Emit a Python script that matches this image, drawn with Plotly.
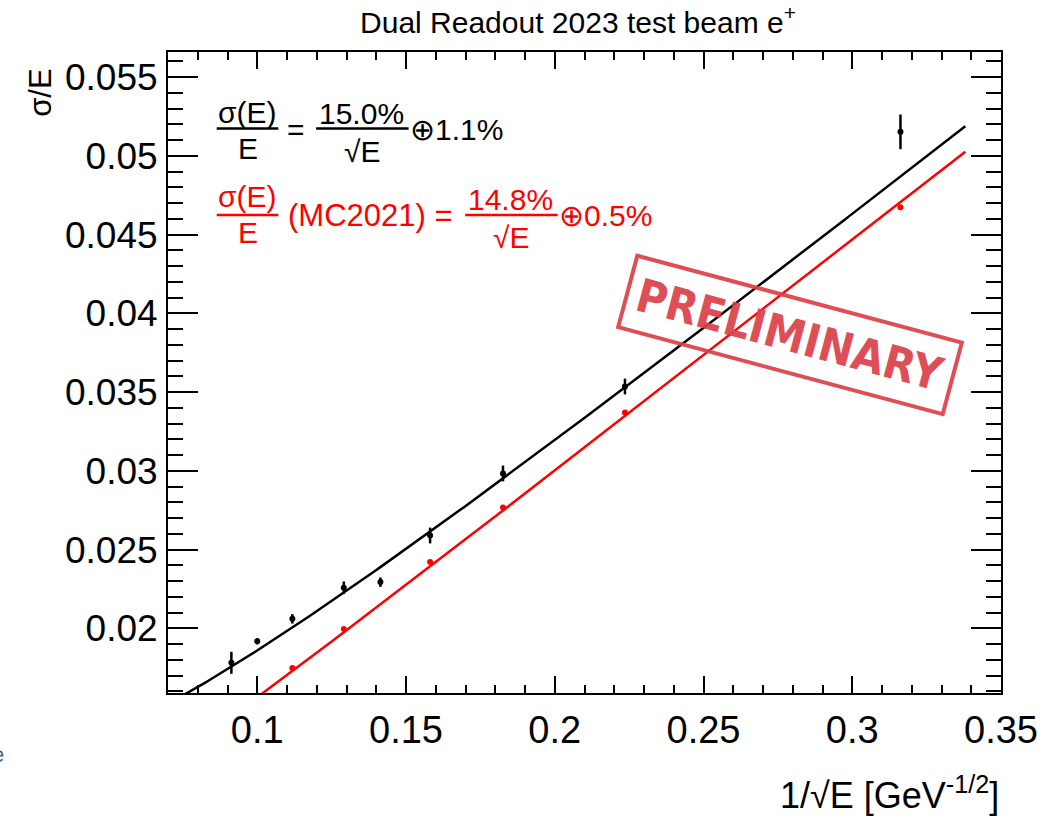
import numpy as np
import plotly.graph_objects as go

# ---------------- data ----------------
x_data = [0.0913, 0.1000, 0.1118, 0.1291, 0.1414, 0.1581, 0.1826, 0.2236, 0.3162]
y_data = [0.01782, 0.01919, 0.02061, 0.02258, 0.02294, 0.02590, 0.02984, 0.03536, 0.05153]
y_data_err = [0.0007, 0.0002, 0.0003, 0.0004, 0.0003, 0.0005, 0.0005, 0.0005, 0.0011]

x_mc = [0.1118, 0.1291, 0.1581, 0.1826, 0.2236, 0.3162]
y_mc = [0.01749, 0.01996, 0.02421, 0.02768, 0.03371, 0.04675]
y_mc_err = [0.0001, 0.0001, 0.0001, 0.0001, 0.0001, 0.0001]

# fit results shown on the chart: sigma/E = a/sqrt(E) (+) b
fit_data = {"stoch": 0.150, "const": 0.011}
fit_mc = {"stoch": 0.148, "const": 0.005}
fit_x_min, fit_x_max = 0.07, 0.338

x_tickvals = [0.1, 0.15, 0.2, 0.25, 0.3, 0.35]
x_ticktext = ["0.1", "0.15", "0.2", "0.25", "0.3", "0.35"]
y_tickvals = [0.02, 0.025, 0.03, 0.035, 0.04, 0.045, 0.05, 0.055]
y_ticktext = ["0.02", "0.025", "0.03", "0.035", "0.04", "0.045", "0.05", "0.055"]

# ---------------- geometry helpers ----------------
W, H = 1050, 819
L, R, T, B = 168, 1006, 52, 693


def px(x):
    return (x - L) / (R - L)


def py(y):
    return (B - y) / (B - T)


RED = "#ff0000"
SANS = "Liberation Sans, Arial, Helvetica, sans-serif"
NARROW = "Liberation Sans Narrow, Liberation Sans, Arial, sans-serif"
STAMP = "DejaVu Sans Condensed, Liberation Sans Narrow, Liberation Sans, sans-serif"

fit_x = np.linspace(fit_x_min, fit_x_max, 300)


def quad(xv, p):
    return np.sqrt((p["stoch"] * xv) ** 2 + p["const"] ** 2)


fig = go.Figure()

fig.add_trace(go.Scatter(x=fit_x, y=quad(fit_x, fit_data), mode="lines",
                         line=dict(color="black", width=2.5), hoverinfo="skip",
                         showlegend=False))
fig.add_trace(go.Scatter(x=fit_x, y=quad(fit_x, fit_mc), mode="lines",
                         line=dict(color=RED, width=2.5), hoverinfo="skip",
                         showlegend=False))
fig.add_trace(go.Scatter(x=x_data, y=y_data, mode="markers",
                         marker=dict(color="black", size=6),
                         error_y=dict(type="data", array=y_data_err, color="black",
                                      thickness=2.5, width=0),
                         showlegend=False))
fig.add_trace(go.Scatter(x=x_mc, y=y_mc, mode="markers",
                         marker=dict(color=RED, size=6),
                         error_y=dict(type="data", array=y_mc_err, color=RED,
                                      thickness=2, width=0),
                         showlegend=False))

annotations = []
shapes = []


def txt(text, x, y, size=30, color="black", xanchor="center", family=SANS, **kw):
    annotations.append(dict(text=text, x=px(x), y=py(y), xref="paper", yref="paper",
                            xanchor=xanchor, yanchor="middle", showarrow=False,
                            font=dict(family=family, size=size, color=color), **kw))


def bar(x0, x1, y, color="black"):
    shapes.append(dict(type="line", xref="paper", yref="paper",
                       x0=px(x0), x1=px(x1), y0=py(y), y1=py(y),
                       line=dict(color=color, width=2.5)))


# black formula
txt("σ(E)", 248, 112)
bar(217, 279, 128.5)
txt("E", 248, 148)
txt("=", 297, 129)
txt("15.0%", 363, 113)
bar(317, 410, 128.5)
txt("√E", 363, 151)
txt("⊕1.1%", 409, 129, xanchor="left")

# red formula
txt("σ(E)", 248, 197, color=RED)
bar(217, 279, 215, RED)
txt("E", 248, 233, color=RED)
txt("(MC2021) =", 287, 215, size=31, color=RED, xanchor="left")
txt("14.8%", 513, 199, color=RED)
bar(467, 560, 215, RED)
txt("√E", 513, 237, color=RED)
txt("⊕0.5%", 559, 215, color=RED, xanchor="left")

# PRELIMINARY stamp
annotations.append(dict(text="<b>PRELIMINARY</b>", x=px(794), y=py(335),
                        xref="paper", yref="paper", xanchor="center", yanchor="middle",
                        showarrow=False, textangle=15,
                        font=dict(family=STAMP, size=46, color="#dc4048"),
                        bordercolor="#dc4048", borderwidth=4, borderpad=8,
                        opacity=0.92))

# axis titles
txt("1/√E [GeV<sup>-1/2</sup>]", 1006, 793, size=36, family=NARROW, xanchor="right")
txt("σ/E", 39, 93, size=31, textangle=-90)

# stray cropped glyph at the left edge
txt("e", -3, 754, size=22, color="#2e6b8c")

fig.update_layout(
    width=W, height=H,
    margin=dict(l=L, r=W - R, t=T, b=H - B, pad=0),
    paper_bgcolor="white", plot_bgcolor="white",
    title=dict(text="Dual Readout 2023 test beam e<sup>+</sup>", x=578 / W, y=1 - 22 / H,
               xanchor="center", yanchor="middle", xref="container", yref="container",
               font=dict(family=SANS, size=30, color="black")),
    annotations=annotations, shapes=shapes,
    showlegend=False,
)

fig.update_xaxes(range=[0.07, 0.35], tickvals=x_tickvals, ticktext=x_ticktext,
                 showgrid=False, zeroline=False, showline=True, linecolor="black",
                 linewidth=2, mirror="ticks", ticks="inside", ticklen=17, tickwidth=1.5,
                 tickcolor="black",
                 minor=dict(ticks="inside", dtick=0.01, tick0=0.0, ticklen=8,
                            tickwidth=1.5, tickcolor="black", showgrid=False),
                 tickfont=dict(family=NARROW, size=38, color="black"),
                 ticklabelstandoff=2)
fig.update_yaxes(range=[0.0159, 0.0566], tickvals=y_tickvals, ticktext=y_ticktext,
                 showgrid=False, zeroline=False, showline=True, linecolor="black",
                 linewidth=2, mirror="ticks", ticks="inside", ticklen=30, tickwidth=1.5,
                 tickcolor="black",
                 minor=dict(ticks="inside", dtick=0.001, tick0=0.0, ticklen=15,
                            tickwidth=1.5, tickcolor="black", showgrid=False),
                 tickfont=dict(family=SANS, size=37, color="black"),
                 ticklabelstandoff=1)

fig.write_html("out.html")
